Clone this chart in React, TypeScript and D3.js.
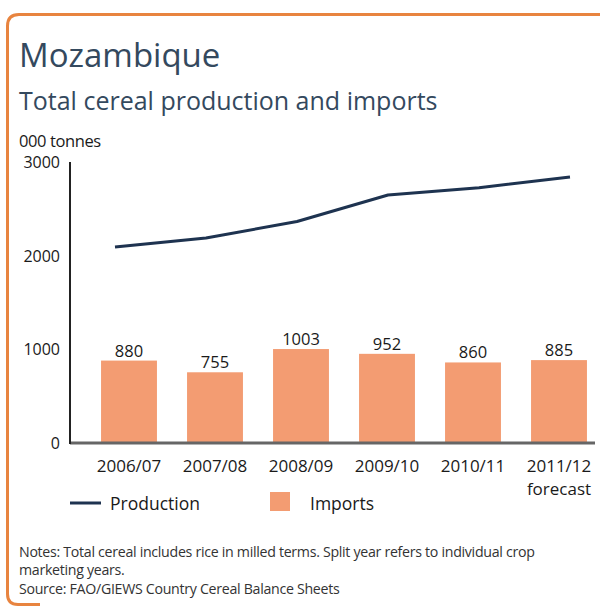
import React from "react";
import * as d3 from "d3";

const years = ["2006/07", "2007/08", "2008/09", "2009/10", "2010/11", "2011/12"];
const yearSub = ["", "", "", "", "", "forecast"];
const imports = [880, 755, 1003, 952, 860, 885];
const production = [2092, 2188, 2365, 2647, 2725, 2840];
const yTicks = [0, 1000, 2000, 3000];

const W = 600;
const H = 608;
const FONT = "'Open Sans', 'Noto Sans', sans-serif";
const BAR = "#F39C72";
const LINE = "#1E3350";
const TITLE = "#34495E";
const TXT = "#1a1a1a";

export default function App() {
  const y = d3.scaleLinear().domain([0, 3000]).range([443, 162]);
  const xb = d3.scaleBand().domain(years).range([86, 602]).paddingInner(0.35).paddingOuter(0.175);
  const xl = d3.scalePoint().domain(years).range([115, 570]);
  const line = d3
    .line<number>()
    .x((_, i) => xl(years[i]) as number)
    .y((d) => y(d));

  return (
    <svg
      width={W}
      height={H}
      style={{ position: "absolute", left: 0, top: 0, background: "#fff" }}
      fontFamily={FONT}
    >
      <rect x={0} y={0} width={W} height={H} fill="#fff" />
      <path
        d={`M 40 604.5 L 18 604.5 Q 7.5 604.5 7.5 594 L 7.5 26 Q 7.5 14.5 19 14.5 L ${W + 10} 14.5`}
        fill="none"
        stroke="#E8843F"
        strokeWidth={3}
      />
      <text x={19} y={67} fontSize={33} fill={TITLE}>
        Mozambique
      </text>
      <text x={19} y={110} fontSize={25} fill={TITLE}>
        Total cereal production and imports
      </text>
      <text x={19} y={147} fontSize={16.5} fill={TXT} letterSpacing={-0.4}>
        000 tonnes
      </text>

      {yTicks.map((t) => (
        <text key={t} x={60} y={y(t) + 6} fontSize={16} textAnchor="end" fill={TXT}>
          {t}
        </text>
      ))}

      {years.map((yr, i) => (
        <g key={yr}>
          <rect
            x={xb(yr)}
            y={y(imports[i])}
            width={xb.bandwidth()}
            height={y(0) - y(imports[i])}
            fill={BAR}
          />
          <text
            x={(xb(yr) as number) + xb.bandwidth() / 2}
            y={y(imports[i]) - 4}
            fontSize={16.5}
            textAnchor="middle"
            fill={TXT}
          >
            {imports[i]}
          </text>
          <text
            x={(xb(yr) as number) + xb.bandwidth() / 2}
            y={472}
            fontSize={17}
            textAnchor="middle"
            fill={TXT}
          >
            {yr}
          </text>
          {yearSub[i] && (
            <text
              x={(xb(yr) as number) + xb.bandwidth() / 2}
              y={495}
              fontSize={17}
              textAnchor="middle"
              fill={TXT}
            >
              {yearSub[i]}
            </text>
          )}
        </g>
      ))}

      <line x1={70} x2={595} y1={y(0)} y2={y(0)} stroke="#666" strokeWidth={3} />
      <line x1={70} x2={70} y1={y(3000)} y2={y(0) + 1} stroke="#222" strokeWidth={2} />

      <path d={line(production) || ""} fill="none" stroke={LINE} strokeWidth={3} strokeLinejoin="round" />

      <line x1={70} x2={101} y1={503} y2={503} stroke={LINE} strokeWidth={3} />
      <text x={110} y={510} fontSize={17.5} fill={TXT}>
        Production
      </text>
      <rect x={270} y={492} width={20} height={19} fill={BAR} />
      <text x={310} y={510} fontSize={17.5} fill={TXT}>
        Imports
      </text>

      <text x={19} y={557} fontSize={14.2} fill="#333" letterSpacing={-0.3}>
        Notes: Total cereal includes rice in milled terms. Split year refers to individual crop
      </text>
      <text x={19} y={575} fontSize={14.2} fill="#333" letterSpacing={-0.3}>
        marketing years.
      </text>
      <text x={19} y={594} fontSize={14.2} fill="#333" letterSpacing={-0.3}>
        Source: FAO/GIEWS Country Cereal Balance Sheets
      </text>
    </svg>
  );
}
